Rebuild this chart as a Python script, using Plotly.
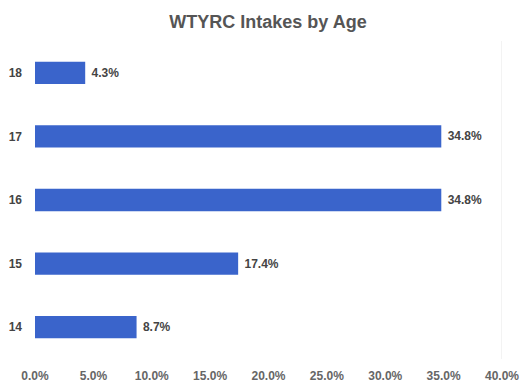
import plotly.graph_objects as go

ages = ['14', '15', '16', '17', '18']
shares = [0.087, 0.174, 0.348, 0.348, 0.043]
labels = ['8.7%', '17.4%', '34.8%', '34.8%', '4.3%']
x_ticks = [0, 0.05, 0.10, 0.15, 0.20, 0.25, 0.30, 0.35, 0.40]

# page body has an 8px margin, so the figure is a bit smaller than the window
fig = go.Figure(go.Bar(
    y=ages, x=shares, orientation='h',
    marker=dict(color='#3a64cb', line=dict(width=0)),
    width=0.35,
    text=['<b>\u00a0' + t + '</b>' for t in labels], textposition='outside', cliponaxis=False,
    textfont=dict(family='Arial, sans-serif', size=12, color='#444444'),
))

fig.update_layout(
    width=520, height=377,
    title=dict(text='<b>WTYRC Intakes by Age</b>', x=0.5, xanchor='center',
               y=0.963, yanchor='middle',
               font=dict(family='Arial, sans-serif', size=18, color='#555555')),
    margin=dict(l=27, r=26, t=33, b=26),
    plot_bgcolor='white', paper_bgcolor='white',
    showlegend=False,
    font=dict(family='Arial, sans-serif', size=11, color='#555555'),
)
fig.update_xaxes(range=[0, 0.40], tickvals=x_ticks,
                 ticktext=['<b>%.1f%%</b>' % (v * 100) for v in x_ticks],
                 showgrid=False, zeroline=False, showline=False,
                 ticklabelstandoff=8, automargin=False,
                 tickfont=dict(family='Arial, sans-serif', size=12, color='#666666'))
fig.update_yaxes(showgrid=False, zeroline=False, showline=False, ticklabelstandoff=12,
                 automargin=False,
                 tickvals=ages, ticktext=['<b>' + a + '</b>' for a in ages],
                 tickfont=dict(family='Arial, sans-serif', size=12, color='#444444'))
fig.add_vline(x=0.40, line=dict(color='#e6e6e6', width=1))

fig.write_html("out.html")
